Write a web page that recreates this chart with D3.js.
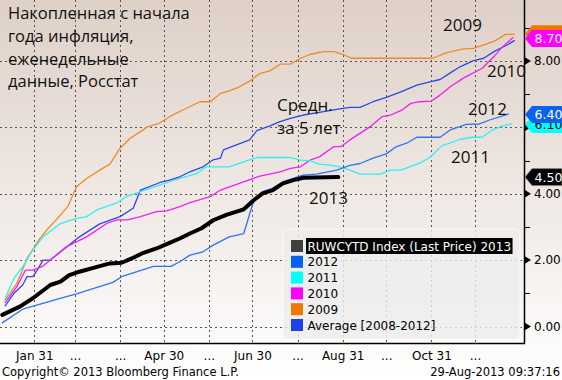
<!DOCTYPE html>
<html><head><meta charset="utf-8">
<script src="https://cdn.jsdelivr.net/npm/d3@7"></script>
<style>html,body{margin:0;padding:0;background:#fff}svg{display:block}</style>
</head><body><svg id="c" width="562" height="380"></svg>
<script>
// ---- data (day of year as MM-DD, cumulative YTD inflation, %) ----
const dates2013 = ["01-09","01-21","01-30","02-11","02-18","02-24","03-03","03-17","03-24","04-01","04-08","04-15","04-25","05-04","05-11","05-18","05-26","06-03","06-12","06-24","07-01","07-07","07-14","07-21","07-28","08-04","08-28"];
const vals2013 = [0.35,0.60,0.85,1.25,1.35,1.55,1.65,1.82,1.90,1.92,2.05,2.20,2.35,2.52,2.65,2.80,2.96,3.20,3.36,3.53,3.81,4.01,4.11,4.31,4.41,4.48,4.50];

const dates2012 = ["01-09","01-23","02-22","03-01","03-26","04-02","04-23","05-05","05-11","05-18","05-27","06-03","06-14","06-24","07-01","07-07","07-14","07-21","07-28","08-04","08-13","08-27","09-05","09-12","09-21","09-30","10-07","10-14","10-21","11-06","11-13","11-20","11-24","12-03","12-10","12-23"];
const vals2012 = [0.11,0.52,0.90,0.98,1.33,1.52,1.81,1.81,1.95,2.15,2.25,2.45,2.70,2.80,3.81,4.06,4.16,4.36,4.46,4.56,4.59,4.71,4.85,4.91,5.07,5.20,5.42,5.52,5.70,5.70,5.92,6.03,6.09,6.10,6.22,6.40];

const dates2011 = ["01-11","01-17","01-23","01-30","02-06","02-18","03-01","03-08","03-15","03-29","04-04","04-14","04-25","05-04","05-11","05-23","05-29","06-14","06-28","07-03","07-26","08-02","08-09","08-15","08-22","08-29","09-05","09-12","09-26","10-03","10-10","10-23","10-30","11-07","11-20","11-28","12-05","12-12","12-19","12-25"];
const vals2011 = [0.85,1.45,1.80,2.30,2.70,3.10,3.26,3.31,3.51,3.73,3.91,4.06,4.23,4.36,4.46,4.61,4.81,4.81,5.02,5.09,5.09,5.01,4.99,4.89,4.86,4.81,4.71,4.59,4.59,4.71,4.71,4.92,5.09,5.44,5.64,5.70,5.70,5.92,6.04,6.10];

const dates2010 = ["01-11","01-19","01-25","01-30","02-06","02-22","03-01","03-08","03-22","03-29","04-05","04-14","04-25","05-02","05-11","05-18","06-01","06-08","06-21","07-05","07-19","07-26","08-02","08-09","08-15","08-25","08-30","09-05","09-19","09-27","10-03","10-10","10-17","10-23","10-31","11-06","11-13","11-22","12-05","12-13","12-19","12-26"];
const vals2010 = [0.72,1.20,1.70,1.70,1.82,2.40,2.55,2.70,3.11,3.21,3.21,3.31,3.46,3.48,3.61,3.73,3.91,4.11,4.31,4.53,4.66,4.76,4.81,5.02,5.11,5.42,5.42,5.62,6.02,6.32,6.37,6.50,6.72,6.77,6.79,6.97,7.22,7.48,7.78,8.13,8.43,8.70];

const dates2009 = ["01-11","01-19","01-22","01-26","02-04","02-09","02-15","02-23","03-01","03-08","03-17","03-24","03-31","04-07","04-14","04-19","04-26","05-04","05-13","05-25","06-01","06-08","06-14","06-21","06-28","07-05","07-12","07-19","07-26","08-02","08-09","08-18","08-25","08-31","09-06","11-01","11-10","11-22","11-29","12-08","12-14","12-21","12-27"];
const vals2009 = [0.80,1.30,1.60,2.05,2.66,2.93,3.21,3.61,4.21,4.46,4.71,4.89,5.37,5.67,5.87,6.02,6.10,6.32,6.52,6.77,6.77,7.02,7.10,7.22,7.39,7.62,7.70,7.90,7.90,8.08,8.20,8.28,8.28,8.20,8.08,8.08,8.24,8.36,8.38,8.51,8.61,8.80,8.80];

const datesAvg = ["01-11","01-17","01-23","01-26","01-30","02-02","02-06","02-11","02-22","03-03","03-17","03-31","04-09","04-14","04-27","05-04","05-11","05-18","05-27","06-03","06-08","06-10","06-19","06-28","07-03","07-12","07-19","07-26","08-04","08-15","08-27","09-05","09-12","09-21","09-30","10-10","10-21","10-30","11-06","11-13","11-20","11-29","12-06","12-13","12-22","12-27"];
const valsAvg = [0.62,1.00,1.25,1.50,1.50,1.70,2.00,2.00,2.39,2.70,3.09,3.31,3.56,4.11,4.33,4.41,4.51,4.66,4.81,5.02,5.07,5.32,5.47,5.62,5.90,6.04,6.17,6.27,6.37,6.45,6.54,6.60,6.60,6.77,6.90,7.07,7.27,7.37,7.44,7.64,7.83,8.01,8.08,8.28,8.48,8.61];

const monthEnds = ["01-31","02-28","03-31","04-30","05-31","06-30","07-31","08-31","09-30","10-31","11-30"];
const xTickLabels = ["Jan 31","...","...","Apr 30","...","Jun 30","...","Aug 31","...","Oct 31","..."];
const yMajor = [0,2,4,6,8];
const yMinor = [1,3,5,7,9];
const legendLabels = ["RUWCYTD Index (Last Price) 2013","2012","2011","2010","2009","Average [2008-2012]"];

// ---- setup ----
const W = 562, H = 380;
const PL = 0, PR = 524, PT = 0, PB = 343;
const parse = s => d3.timeParse("%Y-%m-%d")("2013-" + s);
const x = d3.scaleTime().domain([parse("01-31"), parse("11-30")]).range([34.3, 475]);
const y = d3.scaleLinear().domain([0, 8]).range([326.5, 60.9]);

const svg = d3.select("#c");
const defs = svg.append("defs");
const grad = defs.append("linearGradient").attr("id","bg").attr("x1",0).attr("y1",0).attr("x2",0).attr("y2",1);
grad.append("stop").attr("offset","0%").attr("stop-color","#ded0c7");
grad.append("stop").attr("offset","100%").attr("stop-color","#ffffff");
defs.append("clipPath").attr("id","clip").append("rect").attr("x",PL).attr("y",PT).attr("width",PR-PL).attr("height",PB-PT);

svg.append("rect").attr("width",W).attr("height",H).attr("fill","url(#bg)");

// gridlines
const grid = svg.append("g").attr("stroke","#555").attr("stroke-width",1).attr("stroke-dasharray","2,3");
grid.selectAll("line.h").data(yMajor).join("line")
  .attr("x1",PL).attr("x2",PR).attr("y1",d=>Math.round(y(d))+0.5).attr("y2",d=>Math.round(y(d))+0.5);
grid.selectAll("line.v").data(monthEnds).join("line")
  .attr("y1",PT).attr("y2",PB).attr("x1",d=>Math.round(x(parse(d)))+0.5).attr("x2",d=>Math.round(x(parse(d)))+0.5);

// series
const series = [
  {name:"Avg", dates:datesAvg, vals:valsAvg, color:"#2b47e6", w:1.3},
  {name:"2009", dates:dates2009, vals:vals2009, color:"#f08a28", w:1.3},
  {name:"2010", dates:dates2010, vals:vals2010, color:"#f020f0", w:1.3},
  {name:"2011", dates:dates2011, vals:vals2011, color:"#30f0f0", w:1.3},
  {name:"2012", dates:dates2012, vals:vals2012, color:"#2f74ee", w:1.3},
  {name:"2013", dates:dates2013, vals:vals2013, color:"#000000", w:4}
];
const line = d3.line().x(d=>x(d[0])).y(d=>y(d[1]));
const plot = svg.append("g").attr("clip-path","url(#clip)");
series.forEach(s=>{
  const pts = s.dates.map((d,i)=>[parse(d), s.vals[i]]);
  plot.append("path").datum(pts).attr("d",line).attr("fill","none")
    .attr("stroke",s.color).attr("stroke-width",s.w).attr("stroke-linejoin","round").attr("stroke-linecap","round");
});

// annotations
const ann = svg.append("g").attr("font-family","'Open Sans', sans-serif").attr("fill","#111").attr("font-size","16.5px");
[["Накопленная с начала",8,19],["года инфляция,",8,42],["еженедельные",8,64.5],["данные, Росстат",8,87.3]]
  .forEach(t=>ann.append("text").attr("x",t[1]).attr("y",t[2]).text(t[0]));
[["2009",443,30.7],["2010",487,76.7],["2012",468,115],["2011",451,162.7],["Средн.",277,110.5],["за 5 лет",277,134],["2013",309,204]]
  .forEach(t=>ann.append("text").attr("x",t[1]).attr("y",t[2]).attr("font-size","17px").text(t[0]));

// legend
const leg = svg.append("g").attr("font-family","'DejaVu Sans', sans-serif").attr("font-size","12px");
leg.append("rect").attr("x",283).attr("y",229).attr("width",237).attr("height",110).attr("rx",4)
  .attr("fill","#ededed").attr("fill-opacity",0.82).attr("stroke","#f9f9f9");
const swatch = ["#404040","#0062f5","#00ffff","#ff00ff","#f07800","#2040f0"];
legendLabels.forEach((lab,i)=>{
  const cy = 246 + i*15.8;
  leg.append("rect").attr("x",291).attr("y",cy-6).attr("width",12).attr("height",12).attr("fill",swatch[i]);
  const t = leg.append("text").attr("x",307.5).attr("y",cy+4.5).attr("fill", i===0?"#fff":"#000").text(lab);
  if(i===0){
    const bb = t.node().getBBox();
    leg.insert("rect","text").attr("x",bb.x-1.5).attr("y",cy-8).attr("width",bb.width+3).attr("height",16).attr("fill","#000");
  }
});

// right axis
const ax = svg.append("g").attr("transform",`translate(${PR},0)`);
ax.call(d3.axisRight(y).tickValues(yMajor).tickFormat(d3.format(".2f")).tickSize(0).tickPadding(10))
  .call(g=>g.select(".domain").remove())
  .call(g=>g.selectAll("text").attr("font-family","'DejaVu Sans', sans-serif").attr("font-size","12px").attr("fill","#000"));
ax.selectAll("path.tri").data(yMajor).join("path").attr("class","tri")
  .attr("d",d=>{const c=y(d);return `M0.5,${c-4}L7,${c}L0.5,${c+4}Z`;}).attr("fill","#000");
ax.selectAll("line.minor").data(yMinor).join("line").attr("class","minor")
  .attr("x1",0).attr("x2",6).attr("y1",d=>Math.round(y(d))+0.5).attr("y2",d=>Math.round(y(d))+0.5).attr("stroke","#000");
svg.append("line").attr("x1",PR+0.5).attr("x2",PR+0.5).attr("y1",0).attr("y2",PB+1).attr("stroke","#000").attr("stroke-width",1.5);

// bottom axis
const bx = svg.append("g").attr("transform",`translate(0,${PB})`);
bx.call(d3.axisBottom(x).tickValues(monthEnds.map(parse)).tickFormat((d,i)=>xTickLabels[i]).tickSize(0).tickPadding(8))
  .call(g=>g.select(".domain").remove())
  .call(g=>g.selectAll("text").attr("font-family","'DejaVu Sans', sans-serif").attr("font-size","12px").attr("fill","#000"));
svg.append("line").attr("x1",0).attr("x2",PR+1).attr("y1",PB+0.5).attr("y2",PB+0.5).attr("stroke","#000").attr("stroke-width",1.5);

// last-value tags (orange 2009 tag is hidden behind 2010's in the source, so it has no visible label)
const tags = [
  {v:vals2009[vals2009.length-1], fill:"#f07800", tc:null, dy:-0.5},
  {v:vals2010[vals2010.length-1], fill:"#ff00ff", tc:"#fff", dy:0.8},
  {v:vals2011[vals2011.length-1], fill:"#00ffff", tc:"#000", dy:0.5},
  {v:vals2012[vals2012.length-1], fill:"#0b62ee", tc:"#fff", dy:0.5},
  {v:vals2013[vals2013.length-1], fill:"#000000", tc:"#fff", dy:0}
];
const tg = svg.append("g").attr("font-family","'DejaVu Sans', sans-serif").attr("font-size","12.5px");
tags.forEach(t=>{
  const c = y(t.v) + t.dy;
  tg.append("path").attr("d",`M${PR+1},${c}L${PR+8},${c-8.5}L${W},${c-8.5}L${W},${c+8.5}L${PR+8},${c+8.5}Z`)
    .attr("fill",t.fill).attr("stroke", t.fill==="#000000"?"#888":"none").attr("stroke-width",0.8);
  if(t.tc) tg.append("text").attr("x",534.5).attr("y",c+4.6).attr("fill",t.tc).text(d3.format(".2f")(t.v));
});

// footer
const ft = svg.append("g").attr("font-family","'DejaVu Sans', sans-serif").attr("font-size","11.5px").attr("fill","#000");
ft.append("text").attr("x",2).attr("y",376).text("Copyright© 2013 Bloomberg Finance L.P.");
ft.append("text").attr("x",560).attr("y",376).attr("text-anchor","end").text("29-Aug-2013 09:37:16");
</script></body></html>
